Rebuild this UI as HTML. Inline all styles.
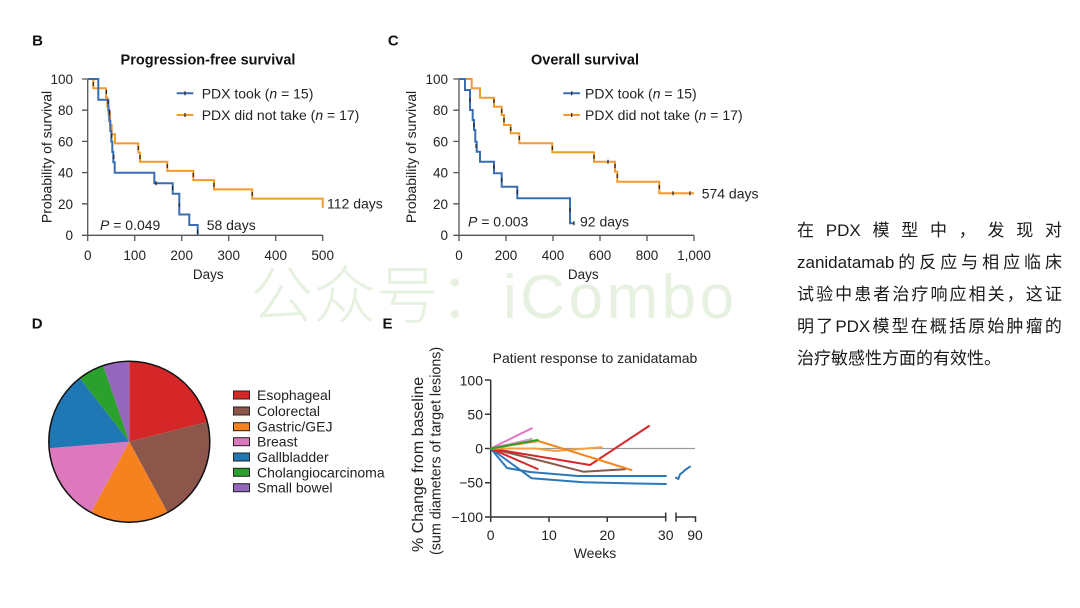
<!DOCTYPE html>
<html>
<head>
<meta charset="utf-8">
<style>
  html,body{margin:0;padding:0;background:#fff;}
  body{width:1080px;height:608px;position:relative;overflow:hidden;}
  svg{position:absolute;left:0;top:0;}
  .txt{position:absolute;left:797px;width:265px;font-family:"Liberation Sans","Noto Sans CJK SC",sans-serif;font-size:17px;color:#1a1a1a;}
  .ln{position:absolute;left:0;width:265px;height:32px;line-height:32px;display:flex;justify-content:space-between;white-space:nowrap;}
  .ln5{justify-content:flex-start;}
</style>
</head>
<body>
<svg width="1080" height="608" viewBox="0 0 1080 608" font-family="'Liberation Sans', Arial, sans-serif">
  <rect width="1080" height="608" fill="#fff"/>
  <!-- watermark -->
  <text x="250" y="318" font-size="63" font-weight="300" fill="#e6f1df" font-family="'Noto Sans CJK SC', sans-serif">公众号：</text>
  <text x="503" y="318" font-size="62" fill="#e6f1df" letter-spacing="3.5">iCombo</text>

  <!-- ============ Panel B ============ -->
  <text x="37.5" y="45.7" font-size="15" font-weight="bold" text-anchor="middle" fill="#111">B</text>
  <text x="208" y="64.3" font-size="14.5" font-weight="bold" text-anchor="middle" fill="#111">Progression-free survival</text>
  <g stroke="#555" stroke-width="1.3" fill="none">
    <path d="M87.7,79V235.3H322.7"/>
    <path d="M82,79H87.7M82,110.2H87.7M82,141.4H87.7M82,172.6H87.7M82,203.8H87.7M82,235.3H87.7"/>
    <path d="M87.7,235.3V241M134.7,235.3V241M181.7,235.3V241M228.7,235.3V241M275.7,235.3V241M322.7,235.3V241"/>
  </g>
  <g font-size="13.5" fill="#222" text-anchor="end">
    <text x="73" y="84">100</text><text x="73" y="115.2">80</text><text x="73" y="146.4">60</text>
    <text x="73" y="177.6">40</text><text x="73" y="208.8">20</text><text x="73" y="240">0</text>
  </g>
  <g font-size="13.5" fill="#222" text-anchor="middle">
    <text x="87.7" y="260">0</text><text x="134.7" y="260">100</text><text x="181.7" y="260">200</text>
    <text x="228.7" y="260">300</text><text x="275.7" y="260">400</text><text x="322.7" y="260">500</text>
    <text x="208.3" y="279">Days</text>
  </g>
  <text transform="translate(51.5,157) rotate(-90)" font-size="14" text-anchor="middle" fill="#222">Probability of survival</text>
  <path d="M87.7,79H93.3V88.2H106V97.4H107.3V106.5H108.7V115.7H110V125H111.7V134.2H115V143.4H138.3V152.6H140V161.7H167.3V170.9H193.3V180.1H214V189.4H252.2V198.6H322.7V207.8" stroke="#f39a2b" stroke-width="2" fill="none"/>
  <path d="M87.7,79H98.3V99.8H108.3V110.3H109.3V120.7H110.3V131H111.3V141.5H112.3V151.9H113.3V162.3H114.7V172.8H154.3V183.2H172.7V193.7H179.3V214.5H189.3V225H197.7V235.3" stroke="#3b6db3" stroke-width="2" fill="none"/>
  <g stroke="#222" stroke-width="1.2">
    <path d="M109.8,111v4M111.8,134v4M113.8,155v4M156,181.2v4M172.7,186v4M179.3,203v4M197.7,230v4"/>
    <path d="M93.3,82v4M106.5,90v4M108,100v4M109.5,110v4M138.3,146v4M140,155v4M167.3,164v4M193.3,173v4M214,183v4M252.2,192v4"/>
  </g>
  <line x1="176.7" y1="93.3" x2="193.3" y2="93.3" stroke="#3b6db3" stroke-width="2"/>
  <line x1="185" y1="91.3" x2="185" y2="95.3" stroke="#222" stroke-width="1.2"/>
  <line x1="176.7" y1="115" x2="193.3" y2="115" stroke="#f39a2b" stroke-width="2"/>
  <line x1="185" y1="113" x2="185" y2="117" stroke="#222" stroke-width="1.2"/>
  <g font-size="14" fill="#222">
    <text x="201.7" y="98.3">PDX took (<tspan font-style="italic">n</tspan> = 15)</text>
    <text x="201.7" y="120">PDX did not take (<tspan font-style="italic">n</tspan> = 17)</text>
    <text x="100" y="230"><tspan font-style="italic">P</tspan> = 0.049</text>
    <text x="206.7" y="230">58 days</text>
    <text x="327" y="208.3">112 days</text>
  </g>

  <!-- ============ Panel C ============ -->
  <text x="393.3" y="45.7" font-size="15" font-weight="bold" text-anchor="middle" fill="#111">C</text>
  <text x="585" y="64.3" font-size="14.5" font-weight="bold" text-anchor="middle" fill="#111">Overall survival</text>
  <g stroke="#555" stroke-width="1.3" fill="none">
    <path d="M459,79V235.3H694"/>
    <path d="M453.3,79H459M453.3,110.2H459M453.3,141.4H459M453.3,172.6H459M453.3,203.8H459M453.3,235.3H459"/>
    <path d="M459,235.3V241M506,235.3V241M553,235.3V241M600,235.3V241M647,235.3V241M694,235.3V241"/>
  </g>
  <g font-size="13.5" fill="#222" text-anchor="end">
    <text x="448" y="84">100</text><text x="448" y="115.2">80</text><text x="448" y="146.4">60</text>
    <text x="448" y="177.6">40</text><text x="448" y="208.8">20</text><text x="448" y="240">0</text>
  </g>
  <g font-size="13.5" fill="#222" text-anchor="middle">
    <text x="459" y="260">0</text><text x="506" y="260">200</text><text x="553" y="260">400</text>
    <text x="600" y="260">600</text><text x="647" y="260">800</text><text x="694" y="260">1,000</text>
    <text x="583.3" y="279">Days</text>
  </g>
  <text transform="translate(416,157) rotate(-90)" font-size="14" text-anchor="middle" fill="#222">Probability of survival</text>
  <path d="M459,79H471.7V88.3H480V97.7H494V106.7H501.7V115H504V125H510.7V133.3H519.3V143.3H552.3V152.3H594V161.7H615V171.7H617.3V181.7H659.3V193.3H694" stroke="#f39a2b" stroke-width="2" fill="none"/>
  <path d="M459,79H465V90H470V110H472.7V120H474V130H475.3V141.7H476.7V151.7H480V161.7H494V173.3H501.7V186.7H517.3V198.3H570V223.3H574" stroke="#3b6db3" stroke-width="2" fill="none"/>
  <g stroke="#222" stroke-width="1.2">
    <path d="M470,98v4M474,123v4M476,144v4M494,165v4M501.7,178v4M517.3,190v4M570,208v4M574,221.3v4"/>
    <path d="M494,99v4M501.7,109v4M504,118v4M510.7,127v4M519.3,136v4M552.3,146v4M594,155v4M608,159.7v4M615,164v4M617.3,174v4M659.3,185v4M673,191.3v4M690,191.3v4"/>
  </g>
  <line x1="563.3" y1="93.3" x2="580" y2="93.3" stroke="#3b6db3" stroke-width="2"/>
  <line x1="571.7" y1="91.3" x2="571.7" y2="95.3" stroke="#222" stroke-width="1.2"/>
  <line x1="563.3" y1="115" x2="580" y2="115" stroke="#f39a2b" stroke-width="2"/>
  <line x1="571.7" y1="113" x2="571.7" y2="117" stroke="#222" stroke-width="1.2"/>
  <g font-size="14" fill="#222">
    <text x="585" y="98.3">PDX took (<tspan font-style="italic">n</tspan> = 15)</text>
    <text x="585" y="120">PDX did not take (<tspan font-style="italic">n</tspan> = 17)</text>
    <text x="468" y="226.7"><tspan font-style="italic">P</tspan> = 0.003</text>
    <text x="580" y="226.7">92 days</text>
    <text x="701.7" y="198.3">574 days</text>
  </g>

  <!-- ============ Panel D ============ -->
  <text x="37.2" y="328.3" font-size="15" font-weight="bold" text-anchor="middle" fill="#111">D</text>
  <g>
    <path d="M129.3,441.7L129.3,361.2A80.5,80.5 0 0 1 207.3,421.9Z" fill="#d62728"/>
    <path d="M129.3,441.7L207.3,421.9A80.5,80.5 0 0 1 167.6,512.5Z" fill="#8c564b"/>
    <path d="M129.3,441.7L167.6,512.5A80.5,80.5 0 0 1 91.0,512.5Z" fill="#f5811f"/>
    <path d="M129.3,441.7L91.0,512.5A80.5,80.5 0 0 1 49.1,448.3Z" fill="#dd78bd"/>
    <path d="M129.3,441.7L49.1,448.3A80.5,80.5 0 0 1 79.9,378.2Z" fill="#1f77b4"/>
    <path d="M129.3,441.7L79.9,378.2A80.5,80.5 0 0 1 103.2,365.5Z" fill="#2ca02c"/>
    <path d="M129.3,441.7L103.2,365.5A80.5,80.5 0 0 1 129.3,361.2Z" fill="#9467bd"/>
    <circle cx="129.3" cy="441.7" r="80.5" fill="none" stroke="#111" stroke-width="1.5"/>
  </g>
  <g stroke="#222" stroke-width="1">
    <rect x="233.5" y="391" width="16" height="8" fill="#d62728"/>
    <rect x="233.5" y="407" width="16" height="8" fill="#8c564b"/>
    <rect x="233.5" y="422.7" width="16" height="8" fill="#f5811f"/>
    <rect x="233.5" y="437.7" width="16" height="8" fill="#dd78bd"/>
    <rect x="233.5" y="453" width="16" height="8" fill="#1f77b4"/>
    <rect x="233.5" y="468.3" width="16" height="8" fill="#2ca02c"/>
    <rect x="233.5" y="483.7" width="16" height="8" fill="#9467bd"/>
  </g>
  <g font-size="14" fill="#222">
    <text x="257" y="400">Esophageal</text>
    <text x="257" y="416">Colorectal</text>
    <text x="257" y="431.7">Gastric/GEJ</text>
    <text x="257" y="446.7">Breast</text>
    <text x="257" y="462">Gallbladder</text>
    <text x="257" y="477.3">Cholangiocarcinoma</text>
    <text x="257" y="492.7">Small bowel</text>
  </g>

  <!-- ============ Panel E ============ -->
  <text x="387.5" y="328.3" font-size="15" font-weight="bold" text-anchor="middle" fill="#111">E</text>
  <text x="595" y="363" font-size="14" text-anchor="middle" fill="#222">Patient response to zanidatamab</text>
  <line x1="490.7" y1="448.5" x2="695" y2="448.5" stroke="#9a9a9a" stroke-width="1.3"/>
  <g stroke="#333" stroke-width="1.5" fill="none">
    <path d="M490.7,380V517H665.7"/>
    <path d="M485,380H490.7M485,414.3H490.7M485,448.5H490.7M485,482.7H490.7M485,517H490.7"/>
    <path d="M490.7,517V522M549,517V522M607.3,517V522M665.7,512.5V521.5"/>
    <path d="M676,512.5V521.5M676,517H695.5V522"/>
  </g>
  <g font-size="14" fill="#222" text-anchor="end">
    <text x="483" y="385.5">100</text><text x="483" y="419.5">50</text><text x="483" y="453.5">0</text>
    <text x="483" y="487.7">−50</text><text x="483" y="522">−100</text>
  </g>
  <g font-size="14" fill="#222" text-anchor="middle">
    <text x="490.7" y="540">0</text><text x="549" y="540">10</text><text x="607.3" y="540">20</text>
    <text x="665.7" y="540">30</text><text x="695" y="540">90</text>
    <text x="595" y="558">Weeks</text>
  </g>
  <text transform="translate(423,552) rotate(-90)" font-size="16" fill="#222">% Change from baseline</text>
  <text transform="translate(440.5,555) rotate(-90)" font-size="14.3" fill="#222">(sum diameters of target lesions)</text>
  <g fill="none" stroke-width="2" stroke-linejoin="round" stroke-linecap="round">
    <polyline points="490.7,448.5 507,468 530,472 578,476 666,476" stroke="#2b78b9"/>
    <polyline points="490.7,448.5 531.7,478.3 583.3,482.3 625,483.3 666,484" stroke="#2b78b9"/>
    <polyline points="490.7,448.5 538,460 583.3,471.7 625,469.3" stroke="#8c564b"/>
    <polyline points="490.7,448.5 537.7,469" stroke="#d62728"/>
    <polyline points="490.7,448.5 590,465 649,426" stroke="#d62728"/>
    <polyline points="490.7,448.5 535,448.5 555,451 601.7,447.3" stroke="#f7a043"/>
    <polyline points="490.7,448.5 538.3,441 631.5,470" stroke="#f5881f"/>
    <polyline points="490.7,448.5 531.7,439" stroke="#c89ec8"/>
    <polyline points="490.7,448.5 531.7,428.3" stroke="#e377c2"/>
    <polyline points="490.7,448.5 537.7,440" stroke="#2ca02c"/>
    <polyline points="676,477.7 678.3,479 680,474.3 682.7,472.3 685,470 690,466.7" stroke="#2b78b9"/>
  </g>
</svg>

<div class="txt" style="top:215px;height:170px;">
  <div class="ln" style="top:0"><span>在</span><span>PDX</span><span>模</span><span>型</span><span>中</span><span>，</span><span>发</span><span>现</span><span>对</span></div>
  <div class="ln" style="top:32px"><span>zanidatamab</span><span>的</span><span>反</span><span>应</span><span>与</span><span>相</span><span>应</span><span>临</span><span>床</span></div>
  <div class="ln" style="top:64px"><span>试</span><span>验</span><span>中</span><span>患</span><span>者</span><span>治</span><span>疗</span><span>响</span><span>应</span><span>相</span><span>关</span><span>，</span><span>这</span><span>证</span></div>
  <div class="ln" style="top:96px"><span>明</span><span>了</span><span>PDX</span><span>模</span><span>型</span><span>在</span><span>概</span><span>括</span><span>原</span><span>始</span><span>肿</span><span>瘤</span><span>的</span></div>
  <div class="ln ln5" style="top:128px"><span>治疗敏感性方面的有效性。</span></div>
</div>
</body>
</html>
